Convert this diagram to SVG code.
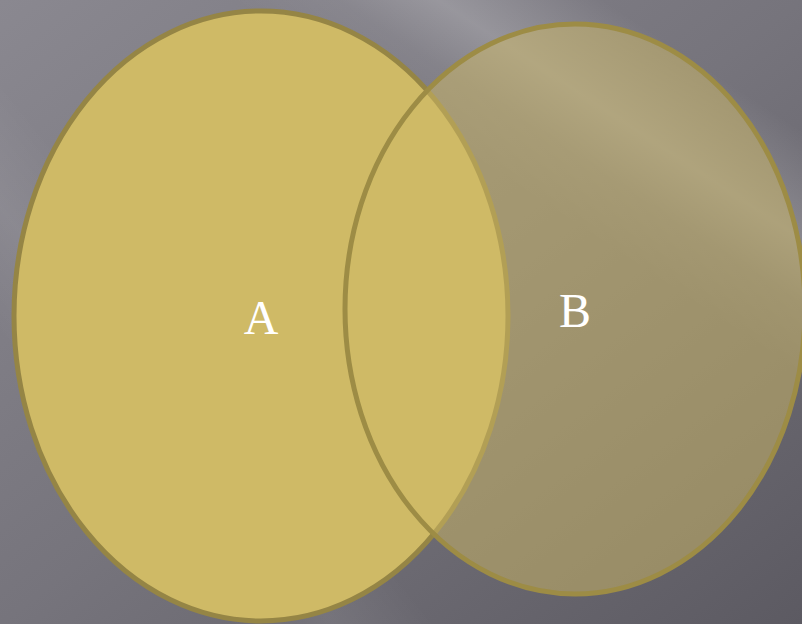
<svg xmlns="http://www.w3.org/2000/svg" width="802" height="624" viewBox="0 0 802 624">
  <defs>
    <linearGradient id="bg" x1="0" y1="0" x2="1" y2="1">
      <stop offset="0" stop-color="#8a8890"/>
      <stop offset="0.5" stop-color="#76747c"/>
      <stop offset="1" stop-color="#5c5a62"/>
    </linearGradient>
    <linearGradient id="streak" gradientUnits="userSpaceOnUse" x1="700" y1="-100" x2="450" y2="280">
      <stop offset="0.3" stop-color="#ffffff" stop-opacity="0"/>
      <stop offset="0.5" stop-color="#ffffff" stop-opacity="0.2"/>
      <stop offset="0.62" stop-color="#ffffff" stop-opacity="0.06"/>
      <stop offset="0.75" stop-color="#ffffff" stop-opacity="0"/>
    </linearGradient>
    <linearGradient id="streak2" gradientUnits="userSpaceOnUse" x1="300" y1="300" x2="50" y2="500">
      <stop offset="0.3" stop-color="#ffffff" stop-opacity="0"/>
      <stop offset="0.55" stop-color="#ffffff" stop-opacity="0.07"/>
      <stop offset="0.8" stop-color="#ffffff" stop-opacity="0"/>
    </linearGradient>
    <style>
      .lbl { font-family: "Liberation Serif", "Times New Roman", serif; font-size: 48px; fill: #ffffff; text-anchor: middle; }
    </style>
  </defs>
  <rect width="802" height="624" fill="url(#bg)"/>
  <rect width="802" height="624" fill="url(#streak)"/>
  <rect width="802" height="624" fill="url(#streak2)"/>
  <g id="nodeA">
    <ellipse cx="261" cy="316" rx="247" ry="305" fill="#cfba66" stroke="#958545" stroke-width="5"/>
    <text class="lbl" x="261" y="334">A</text>
  </g>
  <g id="nodeB">
    <ellipse cx="575" cy="309" rx="230" ry="285" fill="#cfba66" fill-opacity="0.5" stroke="#9d8c45" stroke-width="5"/>
    <text class="lbl" x="575" y="327">B</text>
  </g>
  <g id="connectors"/>
</svg>
